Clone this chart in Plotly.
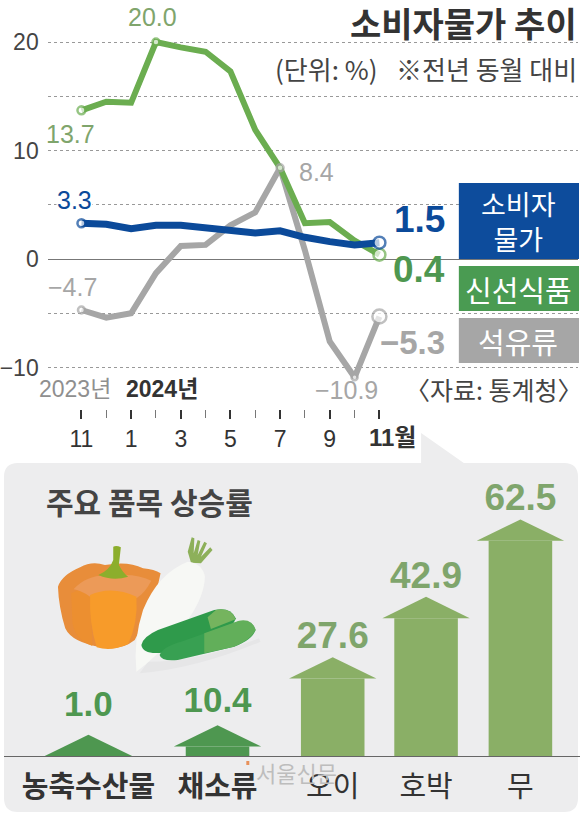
import re
import plotly.graph_objects as go

W, H = 580, 816
LATIN = "Liberation Sans, Noto Sans CJK KR, sans-serif"
KR = "Noto Sans CJK KR, sans-serif"

months = list(range(13))
month_ticks = [0, 2, 4, 6, 8, 10]
month_text = ["11", "1", "3", "5", "7", "9"]

cpi = [3.3, 3.2, 2.8, 3.1, 3.1, 2.9, 2.7, 2.4, 2.6, 2.0, 1.6, 1.3, 1.5]
fresh = [13.7, 14.5, 14.4, 20.0, 19.5, 19.1, 17.3, 11.9, 8.4, 3.3, 3.4, 1.7, 0.4]
oil = [-4.7, -5.4, -5.0, -1.3, 1.2, 1.3, 3.1, 4.3, 8.4, 0.8, -7.6, -10.9, -5.3]

items = ["농축수산물", "채소류", "오이", "호박", "무"]
rises = [1.0, 10.4, 27.6, 42.9, 62.5]
item_bold = [True, True, False, False, False]

BLUE = "#0B4A9A"
GREEN = "#6BAD50"
GRAY = "#A6A6A6"
LABEL_GREEN = "#7FA56C"
ARROW_DARK = "#4E9750"
ARROW_LIGHT = "#8AAF66"

# pixel helpers
def px(x):
    return x / W

def py(y):
    return 1 - y / H

def paper_path(d, scale=1.0, ox=0.0, oy=0.0):
    def conv(m):
        x = float(m.group(1)) * scale + ox
        y = float(m.group(2)) * scale + oy
        return f"{px(x):.5f},{py(y):.5f}"
    return re.sub(r"(-?[\d.]+),(-?[\d.]+)", conv, d)

def shape(d, color, layer="below"):
    return dict(type="path", path=d, xref="paper", yref="paper", layer=layer,
                fillcolor=color, line=dict(width=0))

def art(d, color):
    # sketch coordinates are 3x, from the corner of the illustration
    return shape(paper_path(d, 1 / 3, 45, 530), color)

def box(x0, y0, x1, y1, color):
    return dict(type="rect", xref="paper", yref="paper", layer="above",
                x0=px(x0), x1=px(x1), y0=py(y1), y1=py(y0),
                fillcolor=color, line=dict(width=0))

def note(x, y, text, size, color, font=LATIN, bg=None, anchor="center"):
    return dict(x=px(x), y=py(y), xref="paper", yref="paper", text=text, showarrow=False,
                xanchor=anchor, yanchor="middle", align="center",
                font=dict(family=font, size=size, color=color),
                bgcolor=bg, borderpad=0)

fig = go.Figure()

# line chart
for vals, color, width in [(oil, GRAY, 6), (fresh, GREEN, 6), (cpi, BLUE, 7)]:
    fig.add_trace(go.Scatter(x=months, y=vals, mode="lines", showlegend=False,
                             line=dict(color=color, width=width)))

end_marks = [(oil, GRAY, [0, 8, 11, 12], [7, 7, 6, 14]),
             (fresh, GREEN, [0, 3, 12], [8, 7, 12]),
             (cpi, BLUE, [0, 12], [8, 12])]
for vals, color, idx, sizes in end_marks:
    fig.add_trace(go.Scatter(x=[months[i] for i in idx], y=[vals[i] for i in idx],
                             mode="markers", showlegend=False,
                             marker=dict(color="white", size=sizes,
                                         line=dict(color=color, width=2.5))))

# arrows
arrow_x = [85, 215, 331, 425, 520]
arrow_colors = [ARROW_DARK, ARROW_DARK, ARROW_LIGHT, ARROW_LIGHT, ARROW_LIGHT]
label_lift = [2.5, 1.0, 0, 0, 0]
shoulders = [max(v - 8, 0) for v in rises]
tips = [s + 5.4 for s in shoulders]

fig.add_trace(go.Bar(x=arrow_x, y=shoulders, width=64, marker=dict(color=arrow_colors, line=dict(width=0)),
                     xaxis="x2", yaxis="y2", showlegend=False))
for ax, s, t, c in zip(arrow_x, shoulders, tips, arrow_colors):
    fig.add_trace(go.Scatter(x=[ax - 44, ax, ax + 44, ax - 44], y=[s, t, s, s], mode="lines",
                             fill="toself", fillcolor=c, line=dict(width=0), xaxis="x2", yaxis="y2",
                             showlegend=False))
fig.add_trace(go.Scatter(x=arrow_x, y=[t + d for t, d in zip(tips, label_lift)], mode="text",
                         xaxis="x2", yaxis="y2", showlegend=False,
                         text=[f"<b>{v:.1f}</b>" for v in rises], textposition="top center",
                         textfont=dict(family=LATIN, size=[35, 35, 37, 37, 37],
                                       color=[ARROW_DARK, ARROW_DARK, LABEL_GREEN, LABEL_GREEN, LABEL_GREEN])))

shapes = [
    # panel with its pointer
    shape(paper_path("M0,477 Q0,463 14,463 L420,463 L420,433 L463,463 L564,463 Q578,463 578,477 "
                     "L578,798 Q578,812 564,812 L14,812 Q0,812 0,798 Z"), "#EDEDEE"),
    # shadow
    art("M300,395 Q450,395 635,325 L640,335 Q450,415 275,430 Z", "#E6E6E7"),
    # pumpkin
    art("M28,170 Q40,135 95,112 Q130,92 170,105 Q240,92 285,115 Q320,118 338,130 L320,210 L260,330 "
        "Q220,362 160,352 Q70,338 50,295 Q30,230 28,170 Z", "#E88D3A"),
    art("M68,190 Q100,172 125,190 L132,348 Q80,330 72,280 Z", "#EC8F30"),
    art("M75,178 Q120,130 190,138 Q260,128 310,152 Q290,190 265,205 Q190,172 125,200 Q95,180 75,178 Z", "#EC9A58"),
    art("M125,195 Q190,165 265,200 Q270,280 240,342 Q190,366 145,352 Q122,280 125,195 Z", "#F79B2A"),
    art("M195,50 Q205,45 218,52 L212,105 Q225,130 240,140 Q195,155 150,135 Q185,120 195,90 Z", "#8CAE2C"),
    # radish
    art("M430,98 L420,65 L432,22 L440,25 L438,70 L450,30 L458,33 L450,75 L470,35 L478,40 L460,80 "
        "L488,52 L495,60 L460,100 Z", "#8DB05A"),
    art("M420,95 Q465,100 472,140 Q470,200 420,270 Q340,370 265,425 Q255,330 285,240 Q330,130 420,95 Z", "#F7F8F5"),
    # cucumbers
    art("M280,345 Q285,320 330,300 L500,240 Q550,230 565,265 Q560,290 500,320 L345,368 Q285,375 280,345 Z", "#2F9A4B"),
    art("M480,262 L505,240 Q550,230 565,268 L490,297 Z", "#75B45E"),
    art("M335,375 Q345,350 400,335 L570,275 Q615,265 625,300 Q615,330 560,350 L390,390 Q340,395 335,375 Z", "#38A052"),
    art("M470,310 L575,272 Q615,265 625,300 Q610,330 560,350 L470,370 Z", "#62AF5A"),
    # legend boxes
    box(458, 183, 579, 259, "#0D4C9C"),
    box(458, 266, 579, 311, "#4A9B52"),
    box(458, 318, 579, 363, GRAY),
    box(244, 761, 247, 765, "#E8915A"),
]

annotations = [
    note(578, 22, "<b>소비자물가 추이</b>", 34, "#333333", KR, anchor="right"),
    note(272, 68, "(단위: %)", 26, "#444444", KR, anchor="left"),
    note(578, 68, "※전년 동월 대비", 26, "#444444", KR, anchor="right"),
    note(150, 17, "20.0", 25, LABEL_GREEN),
    note(67, 134, "13.7", 25, LABEL_GREEN),
    note(315, 172, "8.4", 25, GRAY),
    note(71, 200, "3.3", 25, BLUE, bg="white"),
    note(69, 287, "−4.7", 25, GRAY),
    note(345, 390, "−10.9", 25, GRAY),
    note(445, 220, "<b>1.5</b>", 37, BLUE, anchor="right"),
    note(445, 270, "<b>0.4</b>", 37, ARROW_DARK, anchor="right"),
    note(445, 342, "<b>−5.3</b>", 33, GRAY, anchor="right"),
    note(518, 221, "소비자<br>물가", 27, "white", KR),
    note(518, 289, "신선식품", 29, "white", KR),
    note(518, 341, "석유류", 29, "white", KR),
    note(493, 389, "〈자료: 통계청〉", 25, "#444444", KR),
    note(71, 389, "2023년", 23, "#8F8F8F"),
    note(159, 389, "<b>2024년</b>", 23, "#333333"),
    note(391, 437, "<b>11월</b>", 24, "#333333"),
    note(147, 501, "<b>주요 품목 상승률</b>", 30, "#444444", KR),
    note(295, 772, "서울신문", 22, "#BDBDBD", KR),
]

fig.update_layout(
    width=W, height=H, autosize=False,
    margin=dict(l=0, r=0, t=0, b=0),
    paper_bgcolor="white", plot_bgcolor="rgba(0,0,0,0)",
    showlegend=False,
    shapes=shapes, annotations=annotations,
    xaxis=dict(domain=[px(44), px(578)], range=[-1.36, 20], anchor="y",
               tickmode="array", tickvals=month_ticks + [12], ticktext=month_text + [""],
               ticks="outside", ticklen=9, tickwidth=1.6, tickcolor="#333333",
               minor=dict(tickmode="array", tickvals=[1, 3, 5, 7, 9, 11], ticks="outside",
                          ticklen=8, tickwidth=1, tickcolor="#777777"),
               tickfont=dict(family=LATIN, size=23, color="#333333"),
               showgrid=False, zeroline=False, showline=False),
    yaxis=dict(domain=[py(409), 1], range=[(259 - 409) / 10.85, 259 / 10.85], anchor="x",
               tickmode="array", tickvals=[-10, -5, 0, 5, 10, 15, 20],
               ticktext=["−10", "", "0", "", "10", "", "20"],
               tickfont=dict(family=LATIN, size=23, color="#444444"),
               ticks="", ticklabelstandoff=8,
               showgrid=True, gridcolor="#999999", griddash="dot", gridwidth=1,
               zeroline=True, zerolinecolor="#777777", zerolinewidth=1.4, showline=False),
    xaxis2=dict(domain=[0, 1], range=[0, W], anchor="y2",
                tickmode="array", tickvals=arrow_x,
                ticktext=[f"<b>{n}</b>" if b else n for n, b in zip(items, item_bold)],
                tickfont=dict(family=KR, size=29, color="#333333"),
                ticks="", ticklabelstandoff=5,
                showgrid=False, zeroline=False, showline=True, linecolor="#666666", linewidth=1.3),
    yaxis2=dict(domain=[py(756), 1], range=[0, 756 / 3.95], anchor="x2", visible=False),
)

fig.write_html("out.html", config={"displayModeBar": False},
               post_script="document.body.style.margin='0';")
